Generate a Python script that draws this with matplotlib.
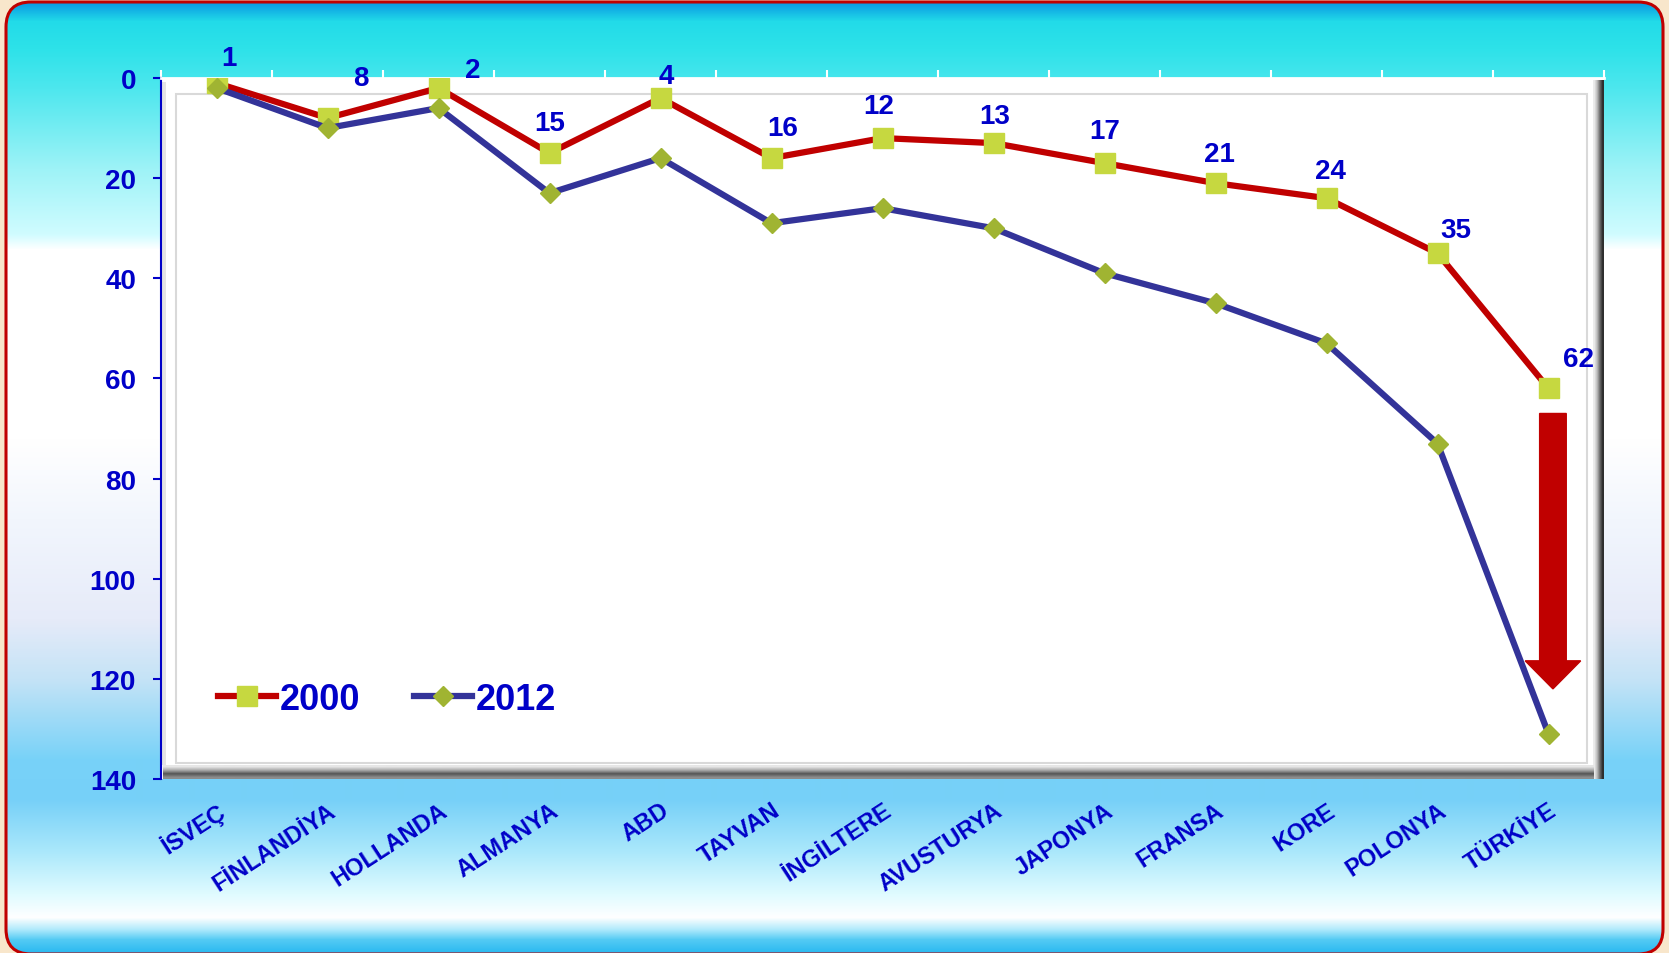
import numpy as np
import matplotlib.pyplot as plt
from matplotlib.colors import to_rgb
from matplotlib.patches import FancyBboxPatch, Rectangle, FancyArrow

countries = ["İSVEÇ", "FİNLANDİYA", "HOLLANDA", "ALMANYA", "ABD", "TAYVAN", "İNGİLTERE",
             "AVUSTURYA", "JAPONYA", "FRANSA", "KORE", "POLONYA", "TÜRKİYE"]
rank_2000 = [1, 8, 2, 15, 4, 16, 12, 13, 17, 21, 24, 35, 62]
rank_2012 = [2, 10, 6, 23, 16, 29, 26, 30, 39, 45, 53, 73, 131]
y_ticks = [0, 20, 40, 60, 80, 100, 120, 140]

# nudges (pixels, image-style: negative = up) for the 2000 value labels
label_offsets = [(12, -25), (33, -40), (34, -18), (0, -30), (6, -22), (11, -30), (-4, -32),
                 (1, -27), (0, -32), (4, -29), (4, -27), (18, -23), (30, -29)]

W, H = 1669, 954
L, R, T, B = 161, 1604, 79, 780  # plot area in pixels, measured from top-left

TXT = "#0000c8"
RED = "#c00000"
NAVY = "#333399"

plt.rcParams["font.family"] = ["Liberation Sans", "DejaVu Sans"]
plt.rcParams["font.weight"] = "bold"

fig = plt.figure(figsize=(W / 100, H / 100), dpi=100, facecolor="#f8e6cb")

# ---- background panel with vertical gradient and rounded red frame ----
bg = fig.add_axes([0, 0, 1, 1], zorder=0)
stops = [(0, "#0a8fe0"), (8, "#10a9e4"), (22, "#22dbe8"), (50, "#2ee2e9"), (90, "#4ee7ee"),
         (170, "#9ef3f7"), (235, "#d0fcff"), (250, "#ffffff"), (440, "#ffffff"),
         (520, "#f2f6fd"), (620, "#e6ebf9"), (680, "#c4e3f6"), (760, "#78d2f8"),
         (800, "#76d0f8"), (850, "#a8e7fb"), (895, "#e0fbff"), (918, "#ffffff"),
         (930, "#b0eafc"), (940, "#55cbf4"), (954, "#28b8f0")]
pos = np.array([s[0] for s in stops], dtype=float)
cols = np.array([to_rgb(s[1]) for s in stops])
ys = np.arange(H)
grad = np.stack([np.interp(ys, pos, cols[:, c]) for c in range(3)], axis=-1)[:, None, :]
im = bg.imshow(grad, extent=[0, W, H, 0], aspect="auto", interpolation="bilinear", zorder=0)
frame = FancyBboxPatch((6, 3), W - 12, H - 2, boxstyle="round,pad=0,rounding_size=25",
                       facecolor="none", edgecolor=RED, lw=2.2, zorder=5)
bg.add_patch(frame)
im.set_clip_path(frame)

# plot area: white with bevel shadows and inner light line
bg.add_patch(Rectangle((L, T), R - L, B - T, facecolor="white", edgecolor="none", zorder=1))
shade_r = np.array([to_rgb(c) for c in ["#ececec", "#bdbdbd", "#6e6e6e", "#2e2e2e"]])
bg.imshow(shade_r[None, :, :], extent=[R - 11, R, B, T + 2], aspect="auto",
          interpolation="bilinear", zorder=2)
shade_b = np.array([to_rgb(c) for c in ["#e6e6e6", "#a8a8a8", "#555555", "#8c8c8c"]])
bg.imshow(shade_b[:, None, :], extent=[L + 2, R - 11, B, B - 14], aspect="auto",
          interpolation="bilinear", zorder=2)
bg.add_patch(Rectangle((L + 1, T + 4), 4, B - T - 18, facecolor="#e4e4e4", edgecolor="none", zorder=2))
bg.add_patch(Rectangle((176, 95), 1587 - 176, 764 - 95, facecolor="none",
                       edgecolor="#d9d9d9", lw=1.5, zorder=2))
bg.set_xlim(0, W)
bg.set_ylim(H, 0)
bg.axis("off")

# ---- main chart ----
ax = fig.add_axes([L / W, 1 - B / H, (R - L) / W, (B - T) / H], zorder=1)
ax.patch.set_visible(False)

x = np.arange(len(countries))
ax.plot(x, rank_2000, color=RED, lw=4.5, marker="s", ms=15, mfc="#c6d840", mec="#c6d840",
        label="2000", zorder=3)
ax.plot(x, rank_2012, color=NAVY, lw=4.5, marker="D", ms=10.5, mfc="#a0b432", mec="#a0b432",
        label="2012", zorder=3)

for xi, v, (dx, dy) in zip(x, rank_2000, label_offsets):
    ax.annotate(str(v), (xi, v), xytext=(dx, -dy), textcoords="offset pixels",
                ha="center", va="center", fontsize=20, color=TXT, fontweight="bold")

# downward arrow between Türkiye's two ranks
a0 = rank_2000[-1] + 5
a1 = rank_2012[-1] - 9
ax.add_patch(FancyArrow(x[-1] + 0.04, a0, 0, a1 - a0, width=0.24, head_width=0.5,
                        head_length=5.6, length_includes_head=True, color=RED, zorder=4))

ax.set_xlim(-0.5, len(countries) - 0.5)
ax.set_ylim(140, 0)
ax.set_yticks(y_ticks)
ax.set_xticks(x)
ax.set_xticklabels(countries, rotation=33, ha="right", va="top", rotation_mode="anchor",
                   fontsize=17, color=TXT)
ax.set_xticks(np.arange(-0.5, len(countries)), minor=True)
ax.tick_params(axis="x", which="major", length=0, pad=14)
ax.tick_params(axis="x", which="minor", top=True, bottom=False, length=6, width=1.5,
               color="white", direction="out")
ax.tick_params(axis="y", length=6, width=1.5, color=TXT, labelsize=20, labelcolor=TXT, pad=12)
for s in ("right", "bottom"):
    ax.spines[s].set_visible(False)
ax.spines["left"].set_color(TXT)
ax.spines["left"].set_linewidth(1.5)
ax.spines["top"].set_color("white")
ax.spines["top"].set_linewidth(2)

leg = ax.legend(loc="center left", bbox_to_anchor=(218 / W, 1 - 700 / H),
                bbox_transform=fig.transFigure, ncol=2, frameon=False, fontsize=26,
                handlelength=1.6, handletextpad=0.1, columnspacing=1.5,
                borderpad=0, borderaxespad=0)
for t in leg.get_texts():
    t.set_color(TXT)

fig.savefig("out.png", dpi=100)
plt.close(fig)
